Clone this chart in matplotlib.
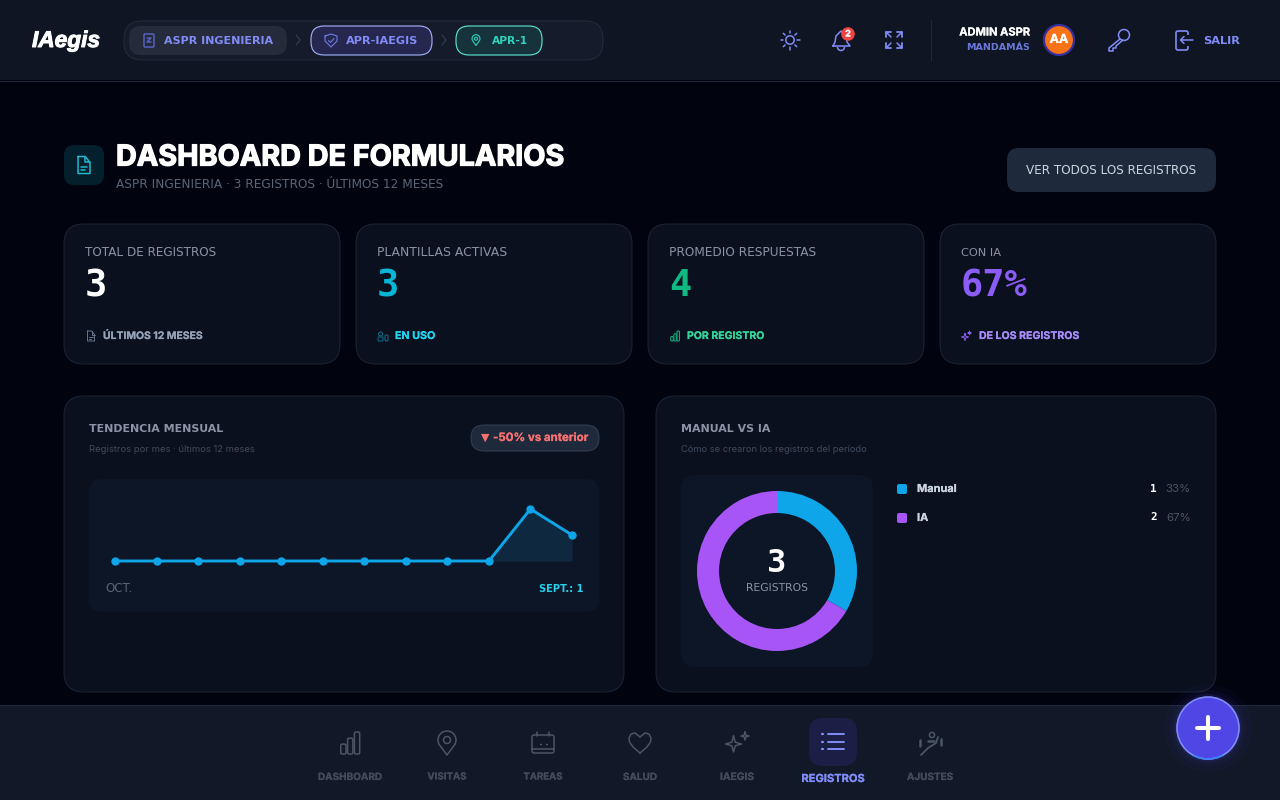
import matplotlib
matplotlib.use('Agg')
import matplotlib.pyplot as plt
import matplotlib.patheffects as pe
from matplotlib.patches import FancyBboxPatch, Circle, Rectangle, Arc

# values
trend_months = ['oct', 'nov', 'dic', 'ene', 'feb', 'mar', 'abr', 'may', 'jun', 'jul', 'ago', 'sept']
trend_values = [0, 0, 0, 0, 0, 0, 0, 0, 0, 0, 2, 1]
donut_labels = ['Manual', 'IA']
donut_values = [1, 2]
donut_pcts = ['33%', '67%']
donut_colors = ['#0ea5e9', '#a855f7']
kpi_labels = ['TOTAL DE REGISTROS', 'PLANTILLAS ACTIVAS', 'PROMEDIO RESPUESTAS', 'CON IA']
kpi_values = ['3', '3', '4', '67%']
kpi_notes = ['ÚLTIMOS 12 MESES', 'EN USO', 'POR REGISTRO', 'DE LOS REGISTROS']
nav_labels = ['DASHBOARD', 'VISITAS', 'TAREAS', 'SALUD', 'IAEGIS', 'REGISTROS', 'AJUSTES']

fig = plt.figure(figsize=(12.8, 8), dpi=100, facecolor='#01040f')
ax = fig.add_axes([0, 0, 1, 1])
ax.set_xlim(0, 1280)
ax.set_ylim(800, 0)
ax.axis('off')
rend = fig.canvas.get_renderer()

INDIGO = '#818cf8'
WIDE = 'DejaVu Sans'


def box(x0, y0, x1, y1, r, fc, ec='none', lw=0.72, z=1):
    p = FancyBboxPatch((x0, y0), x1 - x0, y1 - y0, boxstyle=f'round,pad=0,rounding_size={r}',
                       fc=fc, ec=ec, lw=lw, zorder=z)
    ax.add_patch(p)


def label(x, y, s, px, color, weight='normal', family='Inter', ha='left', fit=None, z=5, heavy=0, **kw):
    t = ax.text(x, y, s, fontsize=px * 0.72, color=color, fontweight=weight, family=family,
                ha=ha, va='center', zorder=z, **kw)
    if fit:
        w = t.get_window_extent(rend).width
        t.set_fontsize(t.get_fontsize() * fit / w)
    if heavy:
        # Inter only comes in one weight here, so thicken it by hand
        t.set_path_effects([pe.withStroke(linewidth=heavy, foreground=color)])
    return t


def stroke(xs, ys, color, lw=1.0, z=5):
    ax.plot(xs, ys, color=color, lw=lw, solid_capstyle='round', solid_joinstyle='round', zorder=z)


def doc_icon(cx, cy, s, color, lw=1.0):
    w, h = 0.7 * s, s
    stroke([cx - w / 2, cx + w * 0.1, cx + w / 2, cx + w / 2, cx - w / 2, cx - w / 2],
           [cy - h / 2, cy - h / 2, cy - h * 0.15, cy + h / 2, cy + h / 2, cy - h / 2], color, lw)
    stroke([cx + w * 0.1, cx + w * 0.1, cx + w / 2], [cy - h / 2, cy - h * 0.15, cy - h * 0.15], color, lw)
    stroke([cx - w * 0.25, cx + w * 0.25], [cy + h * 0.12, cy + h * 0.12], color, lw)
    stroke([cx - w * 0.25, cx + w * 0.05], [cy + h * 0.28, cy + h * 0.28], color, lw)


def pin_icon(cx, cy, s, color, lw=1.0):
    r = s * 0.36
    ax.add_patch(Arc((cx, cy - s * 0.12), 2 * r, 2 * r, theta1=150, theta2=30, ec=color, lw=lw, zorder=5))
    stroke([cx - r * 0.87, cx, cx + r * 0.87], [cy + r * 0.48 - s * 0.12, cy + s / 2, cy + r * 0.48 - s * 0.12], color, lw)
    ax.add_patch(Circle((cx, cy - s * 0.12), s * 0.14, fc='none', ec=color, lw=lw, zorder=5))


def spark(ox, oy, a, color, lw, z=5):
    b = a * 0.22
    stroke([ox, ox + b, ox + a, ox + b, ox, ox - b, ox - a, ox - b, ox],
           [oy - a, oy - b, oy, oy + b, oy + a, oy + b, oy, oy - b, oy - a], color, lw, z)


def bars_icon(cx, cy, s, color, lw=1.0, z=5):
    bw = s * 0.24
    for i, h in enumerate([0.45, 0.72, 1.0]):
        x = cx - s * 0.42 + i * s * 0.31
        box(x, cy + s / 2 - h * s, x + bw, cy + s / 2, bw * 0.3, 'none', color, lw, z)


# page frame
ax.add_patch(Rectangle((0, 0), 1280, 80, fc='#0f1523', ec='none', zorder=1))
ax.plot([0, 1280], [80.5, 80.5], color='#1e293b', lw=0.72, zorder=2)

# logo and breadcrumb
label(32, 40.5, 'IAegis', 24, 'white', 'bold', 'Liberation Sans', fontstyle='italic', fit=68, heavy=0.7)
box(124, 21, 603, 60, 18, '#151b2a', '#232b3b')
box(129, 26, 287, 55, 12, '#262b3b', z=2)
box(144, 34, 154, 47, 1, 'none', '#5a66c8', 1.0, 5)
stroke([147, 151, 147, 151], [38, 38, 42, 42], '#5a66c8', 1.0)
label(164, 40.5, 'ASPR INGENIERIA', 10, INDIGO, 'bold', WIDE, fit=109)
stroke([296, 300, 296], [35, 40, 45], '#3a4354', 0.7)
box(311, 26, 432, 55, 13, '#25274f', '#a5b4fc', 0.8, 2)
stroke([325, 331, 337, 337, 331, 325, 325], [36, 34, 36, 41, 47, 41, 36], '#6f7be8', 0.8)
stroke([328.5, 330.5, 334], [40.5, 42.5, 38.5], '#6f7be8', 0.8)
label(346, 40.5, 'APR-IAEGIS', 10, INDIGO, 'bold', WIDE, fit=72)
stroke([442, 446, 442], [35, 40, 45], '#3a4354', 0.7)
box(456, 26, 542, 55, 13, '#16323a', '#5eead4', 0.8, 2)
pin_icon(476, 40, 11, '#2dd4bf', 0.8)
label(492, 40.5, 'APR-1', 10, '#2dd4bf', 'bold', WIDE, fit=36)

# header right side
ax.add_patch(Circle((790, 40), 4.2, fc='none', ec=INDIGO, lw=1.1, zorder=5))
for dx, dy in [(0, -1), (0, 1), (-1, 0), (1, 0), (.7, .7), (-.7, .7), (.7, -.7), (-.7, -.7)]:
    stroke([790 + dx * 7, 790 + dx * 9.5], [40 + dy * 7, 40 + dy * 9.5], INDIGO, 1.1)
stroke([833, 835, 836, 841, 846, 847, 850, 833], [46, 42, 36, 31, 36, 42, 46, 46], INDIGO, 1.1)
ax.add_patch(Arc((841, 47), 7, 7, theta1=0, theta2=180, ec=INDIGO, lw=1.1, zorder=5))
ax.add_patch(Circle((848, 34), 6.8, fc='#ef4444', ec='none', zorder=6))
label(848, 34, '2', 9, 'white', 'bold', ha='center', z=7, heavy=0.15)
for sx, sy in [(-1, -1), (1, -1), (-1, 1), (1, 1)]:
    cx, cy = 894 + sx * 8, 40 + sy * 8
    stroke([cx, cx, cx - sx * 5], [cy - sy * 5, cy, cy], INDIGO, 1.3)
    stroke([cx, cx - sx * 5], [cy, cy - sy * 5], INDIGO, 1.1)
ax.plot([930.5, 930.5], [20, 60], color='#1e293b', lw=0.72, zorder=2)
label(1030, 32.5, 'ADMIN ASPR', 11, 'white', 'bold', ha='right', fit=71, heavy=0.15)
label(1030, 48, 'MANDAMÁS', 9, '#6b77d8', 'bold', WIDE, ha='right', fit=64)
ax.add_patch(Circle((1059, 40), 15, fc='#f97316', ec='#3730a3', lw=1.6, zorder=5))
label(1059, 40, 'AA', 12.5, 'white', 'bold', ha='center', z=6, heavy=0.15)
ax.add_patch(Circle((1124, 35), 5.5, fc='none', ec=INDIGO, lw=1.1, zorder=5))
stroke([1120, 1109, 1109, 1113, 1113, 1116, 1116, 1123], [39, 48, 51, 51, 48, 48, 46, 40], INDIGO, 1.1)
box(1176, 31, 1188, 50, 2, 'none', INDIGO, 1.2, 5)
ax.add_patch(Rectangle((1186, 35), 5, 11, fc='#0f1523', ec='none', zorder=6))
stroke([1181, 1193], [40, 40], INDIGO, 1.1, 7)
stroke([1184, 1180.5, 1184], [36.5, 40, 43.5], INDIGO, 1.1, 7)
label(1203, 41, 'SALIR', 10, INDIGO, 'bold', WIDE, fit=37)

# page title
box(64, 145, 104, 185, 10, '#04202c', z=2)
doc_icon(84, 165, 17, '#22b8cf', 1.1)
label(116, 158, 'DASHBOARD DE FORMULARIOS', 30, 'white', 'bold', fit=449, heavy=0.9)
label(116, 185, 'ASPR INGENIERIA · 3 REGISTROS · ÚLTIMOS 12 MESES', 10, '#5b6578', 'normal', WIDE, fit=326)
box(1007, 148, 1216, 192, 12, '#1e293b', z=2)
label(1111.5, 170.5, 'VER TODOS LOS REGISTROS', 10, '#cbd5e1', 'normal', WIDE, ha='center', fit=169)

# kpi cards
card_x = [64, 356, 648, 940]
label_w = [130, 130, 146, 40]
note_w = [99, 40, 77, 100]
value_c = ['white', '#06b6d4', '#10b981', '#8b5cf6']
note_c = ['#94a3b8', '#22d3ee', '#34d399', '#a78bfa']
icon_c = ['#64748b', '#0e7490', '#10b981', '#8b5cf6']
for i, x in enumerate(card_x):
    box(x, 224, x + 276, 364, 20, '#0a101e', '#1c2536')
    label(x + 21, 252.5, kpi_labels[i], 10, '#8a94a6', 'normal', WIDE, fit=label_w[i])
    label(x + 21, 286, kpi_values[i], 37, value_c[i], 'bold', 'DejaVu Sans Mono')
    label(x + 39, 336, kpi_notes[i], 10, note_c[i], 'bold', fit=note_w[i], heavy=0.1)
doc_icon(91, 336, 10, icon_c[0], 0.7)
ax.add_patch(Circle((380.5, 334), 2, fc='none', ec=icon_c[1], lw=0.7, zorder=5))
box(378, 337, 383, 341, 1, 'none', icon_c[1], 0.7, 5)
box(385, 335, 388, 341, 1, 'none', icon_c[1], 0.7, 5)
bars_icon(675, 336, 10, icon_c[2], 0.7)
spark(965, 337, 3.6, icon_c[3], 0.7)
spark(969.5, 333, 1.8, icon_c[3], 0.7)

# trend panel
box(64, 396, 624, 692, 20, '#0a101e', '#1c2536')
label(89, 429.5, 'TENDENCIA MENSUAL', 11, '#8a94a6', 'bold', WIDE, fit=134)
label(89, 449.5, 'Registros por mes · últimos 12 meses', 9, '#414b5c', fit=167)
box(471, 425, 599, 451, 13, '#1e293b', '#334155', 0.72, 2)
label(481, 437.5, '▼', 11, '#f87171', 'bold', WIDE)
label(493, 438, '-50% vs anterior', 11, '#f87171', 'bold', fit=95, heavy=0.1)
box(89, 479, 599, 612, 14, '#0d1626', z=2)
label(105, 588.5, 'OCT.', 10, '#5b6578', 'normal', WIDE, fit=27)
label(583, 588.5, 'SEPT.: 1', 10, '#22d3ee', 'bold', WIDE, ha='right', fit=45)

ax_line = fig.add_axes([115 / 1280, 1 - 561 / 800, (572 - 115) / 1280, (561 - 509) / 800])
ax_line.patch.set_alpha(0)
ax_line.axis('off')
ax_line.set_xlim(0, 11)
ax_line.set_ylim(0, 2)
xs = list(range(len(trend_months)))
ax_line.fill_between(xs, trend_values, 0, color='#0ea5e9', alpha=0.13, lw=0)
ax_line.plot(xs, trend_values, color='#0ea5e9', lw=2.1, marker='o', ms=5, clip_on=False,
             solid_joinstyle='round')

# donut panel
box(656, 396, 1216, 692, 20, '#0a101e', '#1c2536')
label(681, 429.5, 'MANUAL VS IA', 11, '#8a94a6', 'bold', WIDE, fit=89)
label(681, 449.5, 'Cómo se crearon los registros del período', 9, '#414b5c', fit=188)
box(681, 475, 873, 667, 14, '#0d1626', z=2)

ax_pie = fig.add_axes([697 / 1280, 1 - 651 / 800, 160 / 1280, 160 / 800])
ax_pie.patch.set_alpha(0)
ax_pie.pie(donut_values, colors=donut_colors, startangle=90, counterclock=False, radius=1,
           wedgeprops={'width': 22 / 80, 'lw': 0})
ax_pie.set_xlim(-1, 1)
ax_pie.set_ylim(-1, 1)
label(777, 563, str(sum(donut_values)), 32, 'white', 'bold', 'DejaVu Sans Mono', ha='center')
label(777, 588, 'REGISTROS', 9, '#8a94a6', 'normal', WIDE, ha='center', fit=62)

for i, name in enumerate(donut_labels):
    y = 489 + i * 29
    box(897, y - 5, 907, y + 5, 2, donut_colors[i], z=3)
    label(917, y, name, 11, '#cbd5e1', 'bold', heavy=0.1)
    label(1157, y - 0.5, str(donut_values[i]), 11, 'white', 'bold', 'DejaVu Sans Mono', ha='right')
    label(1191, y, donut_pcts[i], 11.5, '#4b5563', ha='right')

# bottom nav
ax.add_patch(Rectangle((0, 705), 1280, 95, fc='#111827', ec='none', zorder=6))
ax.plot([0, 1280], [704.5, 704.5], color='#1e293b', lw=0.72, zorder=7)
nav_x = [350, 447, 543, 640, 737, 833, 930]
nav_w = [64, 39, 39, 34, 34, 63, 46]
NAV = '#4b5563'
box(809, 718, 857, 766, 14, '#1c1f45', z=7)
for x, name, w in zip(nav_x, nav_labels, nav_w):
    on = name == 'REGISTROS'
    label(x, 779 if on else 777, name, 10, INDIGO if on else '#434b5b', 'bold', ha='center',
          fit=w, z=8, heavy=0.12)

# fab with its glow
for r, al in [(44, 0.04), (38, 0.06), (34, 0.12)]:
    ax.add_patch(Circle((1208, 728), r, fc='#4f46e5', ec='none', alpha=al, zorder=9))
ax.add_patch(Circle((1208, 728), 31, fc='#4f46e5', ec='#818cf8', lw=1.2, zorder=10))
ax.add_patch(Arc((1208, 728), 62, 62, theta1=60, theta2=120, ec='#3b82f6', lw=1.2, zorder=10))
ax.plot([1197, 1219], [728, 728], color='white', lw=2.9, solid_capstyle='round', zorder=11)
ax.plot([1208, 1208], [717, 739], color='white', lw=2.9, solid_capstyle='round', zorder=11)

# nav icons
bars_icon(350, 743, 22, NAV, 1.1, 8)
ax.add_patch(Arc((447, 740), 18, 18, theta1=150, theta2=30, ec=NAV, lw=1.1, zorder=8))
stroke([439.2, 447, 454.8], [744.5, 755, 744.5], NAV, 1.1, 8)
ax.add_patch(Circle((447, 740), 3.5, fc='none', ec=NAV, lw=1.1, zorder=8))
box(532, 735, 554, 753, 2, 'none', NAV, 1.1, 8)
stroke([532, 554], [749, 749], NAV, 1.1, 8)
stroke([537, 537], [732, 736], NAV, 1.1, 8)
stroke([549, 549], [732, 736], NAV, 1.1, 8)
stroke([540, 540.5], [744, 744], NAV, 1.0, 8)
stroke([546, 546.5], [744, 744], NAV, 1.0, 8)
stroke([640, 633, 629.5, 629, 631, 635, 640, 645, 649, 651, 650.5, 647, 640],
       [753, 747, 742, 738, 734, 733, 737, 733, 734, 738, 742, 747, 753], NAV, 1.1, 8)
spark(733.5, 744, 8, NAV, 1.1, 8)
spark(745, 736, 4, NAV, 1.1, 8)
for yy in [734, 741.5, 749]:
    stroke([822, 822.5], [yy, yy], INDIGO, 1.6, 8)
    stroke([828, 844], [yy, yy], INDIGO, 1.4, 8)
stroke([921, 928, 936, 938], [755, 748, 743, 737], NAV, 1.3, 8)
ax.add_patch(Circle((932, 735), 2.6, fc='none', ec=NAV, lw=1.1, zorder=8))
stroke([920, 920], [740, 746], NAV, 1.8, 8)
stroke([941, 941], [739, 745], NAV, 1.8, 8)
stroke([928, 934], [741, 741], NAV, 1.8, 8)

fig.savefig('out.png', dpi=100, facecolor=fig.get_facecolor())
